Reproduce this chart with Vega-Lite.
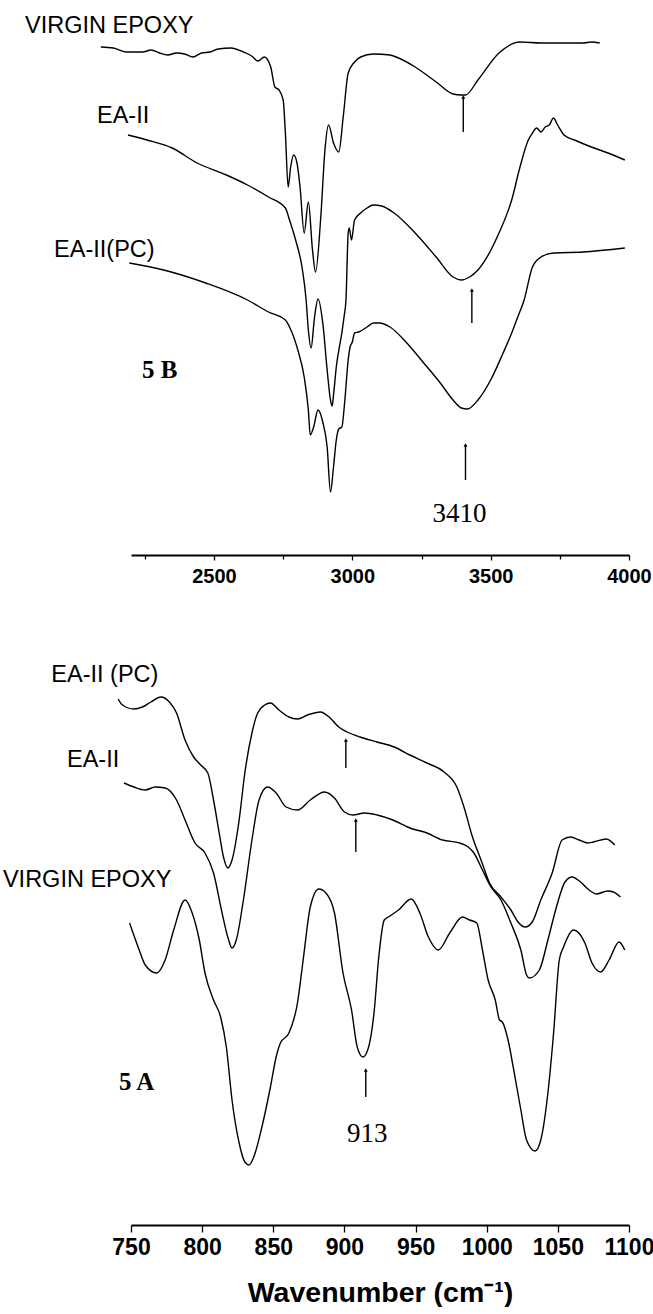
{
  "$schema": "https://vega.github.io/schema/vega-lite/v6.json",
  "padding": {"left": 2, "top": 10, "right": 0, "bottom": 0},
  "background": "white",
  "spacing": 64,
  "config": {"view": {"stroke": null}, "font": "Liberation Sans"},
  "datasets": {
    "spectra": [
      {"panel":"B","series":"V","wn":2091,"tr":508},{"panel":"B","series":"V","wn":2136,"tr":507},{"panel":"B","series":"V","wn":2182,"tr":503},{"panel":"B","series":"V","wn":2212,"tr":503},{"panel":"B","series":"V","wn":2242,"tr":503},{"panel":"B","series":"V","wn":2273,"tr":505},{"panel":"B","series":"V","wn":2303,"tr":502},{"panel":"B","series":"V","wn":2333,"tr":500},{"panel":"B","series":"V","wn":2364,"tr":502},{"panel":"B","series":"V","wn":2394,"tr":501},{"panel":"B","series":"V","wn":2424,"tr":498},{"panel":"B","series":"V","wn":2455,"tr":502},{"panel":"B","series":"V","wn":2485,"tr":503},{"panel":"B","series":"V","wn":2515,"tr":506},{"panel":"B","series":"V","wn":2561,"tr":507},{"panel":"B","series":"V","wn":2606,"tr":503},{"panel":"B","series":"V","wn":2636,"tr":499},{"panel":"B","series":"V","wn":2659,"tr":494},{"panel":"B","series":"V","wn":2682,"tr":498},{"panel":"B","series":"V","wn":2705,"tr":488},{"panel":"B","series":"V","wn":2720,"tr":468},{"panel":"B","series":"V","wn":2735,"tr":465},{"panel":"B","series":"V","wn":2750,"tr":455},{"panel":"B","series":"V","wn":2758,"tr":422},{"panel":"B","series":"V","wn":2768,"tr":368},{"panel":"B","series":"V","wn":2777,"tr":388},{"panel":"B","series":"V","wn":2788,"tr":400},{"panel":"B","series":"V","wn":2800,"tr":392},{"panel":"B","series":"V","wn":2811,"tr":368},{"panel":"B","series":"V","wn":2826,"tr":322},{"panel":"B","series":"V","wn":2841,"tr":353},{"panel":"B","series":"V","wn":2856,"tr":305},{"panel":"B","series":"V","wn":2867,"tr":283},{"panel":"B","series":"V","wn":2886,"tr":338},{"panel":"B","series":"V","wn":2901,"tr":405},{"panel":"B","series":"V","wn":2914,"tr":430},{"panel":"B","series":"V","wn":2932,"tr":412},{"panel":"B","series":"V","wn":2951,"tr":403},{"panel":"B","series":"V","wn":2967,"tr":438},{"panel":"B","series":"V","wn":2985,"tr":482},{"panel":"B","series":"V","wn":3008,"tr":493},{"panel":"B","series":"V","wn":3030,"tr":498},{"panel":"B","series":"V","wn":3076,"tr":501},{"panel":"B","series":"V","wn":3136,"tr":500},{"panel":"B","series":"V","wn":3167,"tr":497},{"panel":"B","series":"V","wn":3227,"tr":488},{"panel":"B","series":"V","wn":3303,"tr":473},{"panel":"B","series":"V","wn":3364,"tr":461},{"panel":"B","series":"V","wn":3394,"tr":460},{"panel":"B","series":"V","wn":3409,"tr":460},{"panel":"B","series":"V","wn":3454,"tr":475},{"panel":"B","series":"V","wn":3530,"tr":502},{"panel":"B","series":"V","wn":3606,"tr":513},{"panel":"B","series":"V","wn":3682,"tr":512},{"panel":"B","series":"V","wn":3757,"tr":512},{"panel":"B","series":"V","wn":3833,"tr":512},{"panel":"B","series":"V","wn":3864,"tr":513},{"panel":"B","series":"V","wn":3894,"tr":512},
      {"panel":"B","series":"E","wn":2189,"tr":420},{"panel":"B","series":"E","wn":2258,"tr":415},{"panel":"B","series":"E","wn":2349,"tr":407},{"panel":"B","series":"E","wn":2439,"tr":392},{"panel":"B","series":"E","wn":2545,"tr":380},{"panel":"B","series":"E","wn":2621,"tr":370},{"panel":"B","series":"E","wn":2697,"tr":358},{"panel":"B","series":"E","wn":2758,"tr":347},{"panel":"B","series":"E","wn":2773,"tr":335},{"panel":"B","series":"E","wn":2795,"tr":315},{"panel":"B","series":"E","wn":2818,"tr":288},{"panel":"B","series":"E","wn":2833,"tr":255},{"panel":"B","series":"E","wn":2841,"tr":225},{"panel":"B","series":"E","wn":2851,"tr":207},{"panel":"B","series":"E","wn":2863,"tr":237},{"panel":"B","series":"E","wn":2876,"tr":256},{"panel":"B","series":"E","wn":2894,"tr":230},{"panel":"B","series":"E","wn":2909,"tr":185},{"panel":"B","series":"E","wn":2921,"tr":155},{"panel":"B","series":"E","wn":2927,"tr":149},{"panel":"B","series":"E","wn":2932,"tr":160},{"panel":"B","series":"E","wn":2942,"tr":188},{"panel":"B","series":"E","wn":2962,"tr":222},{"panel":"B","series":"E","wn":2970,"tr":238},{"panel":"B","series":"E","wn":2977,"tr":255},{"panel":"B","series":"E","wn":2985,"tr":322},{"panel":"B","series":"E","wn":2989,"tr":327},{"panel":"B","series":"E","wn":2997,"tr":315},{"panel":"B","series":"E","wn":3008,"tr":335},{"panel":"B","series":"E","wn":3030,"tr":342},{"panel":"B","series":"E","wn":3053,"tr":347},{"panel":"B","series":"E","wn":3076,"tr":350},{"panel":"B","series":"E","wn":3106,"tr":349},{"panel":"B","series":"E","wn":3151,"tr":342},{"panel":"B","series":"E","wn":3227,"tr":322},{"panel":"B","series":"E","wn":3303,"tr":298},{"panel":"B","series":"E","wn":3364,"tr":278},{"panel":"B","series":"E","wn":3394,"tr":275},{"panel":"B","series":"E","wn":3424,"tr":278},{"panel":"B","series":"E","wn":3454,"tr":285},{"panel":"B","series":"E","wn":3530,"tr":322},{"panel":"B","series":"E","wn":3576,"tr":355},{"panel":"B","series":"E","wn":3606,"tr":388},{"panel":"B","series":"E","wn":3636,"tr":415},{"panel":"B","series":"E","wn":3651,"tr":422},{"panel":"B","series":"E","wn":3666,"tr":427},{"panel":"B","series":"E","wn":3682,"tr":423},{"panel":"B","series":"E","wn":3697,"tr":428},{"panel":"B","series":"E","wn":3712,"tr":430},{"panel":"B","series":"E","wn":3727,"tr":437},{"panel":"B","series":"E","wn":3742,"tr":430},{"panel":"B","series":"E","wn":3765,"tr":420},{"panel":"B","series":"E","wn":3803,"tr":415},{"panel":"B","series":"E","wn":3864,"tr":408},{"panel":"B","series":"E","wn":3924,"tr":402},{"panel":"B","series":"E","wn":3985,"tr":395},
      {"panel":"B","series":"P","wn":2194,"tr":292},{"panel":"B","series":"P","wn":2318,"tr":285},{"panel":"B","series":"P","wn":2470,"tr":272},{"panel":"B","series":"P","wn":2621,"tr":255},{"panel":"B","series":"P","wn":2697,"tr":243},{"panel":"B","series":"P","wn":2758,"tr":235},{"panel":"B","series":"P","wn":2773,"tr":228},{"panel":"B","series":"P","wn":2803,"tr":205},{"panel":"B","series":"P","wn":2826,"tr":178},{"panel":"B","series":"P","wn":2841,"tr":145},{"panel":"B","series":"P","wn":2848,"tr":120},{"panel":"B","series":"P","wn":2860,"tr":128},{"panel":"B","series":"P","wn":2876,"tr":145},{"panel":"B","series":"P","wn":2894,"tr":132},{"panel":"B","series":"P","wn":2909,"tr":108},{"panel":"B","series":"P","wn":2921,"tr":63},{"panel":"B","series":"P","wn":2932,"tr":88},{"panel":"B","series":"P","wn":2942,"tr":115},{"panel":"B","series":"P","wn":2951,"tr":126},{"panel":"B","series":"P","wn":2962,"tr":128},{"panel":"B","series":"P","wn":2973,"tr":155},{"panel":"B","series":"P","wn":2985,"tr":195},{"panel":"B","series":"P","wn":2992,"tr":208},{"panel":"B","series":"P","wn":3000,"tr":213},{"panel":"B","series":"P","wn":3008,"tr":222},{"panel":"B","series":"P","wn":3023,"tr":223},{"panel":"B","series":"P","wn":3053,"tr":228},{"panel":"B","series":"P","wn":3076,"tr":232},{"panel":"B","series":"P","wn":3098,"tr":232},{"panel":"B","series":"P","wn":3136,"tr":228},{"panel":"B","series":"P","wn":3197,"tr":212},{"panel":"B","series":"P","wn":3258,"tr":192},{"panel":"B","series":"P","wn":3318,"tr":172},{"panel":"B","series":"P","wn":3364,"tr":155},{"panel":"B","series":"P","wn":3394,"tr":147},{"panel":"B","series":"P","wn":3416,"tr":146},{"panel":"B","series":"P","wn":3454,"tr":155},{"panel":"B","series":"P","wn":3500,"tr":175},{"panel":"B","series":"P","wn":3545,"tr":202},{"panel":"B","series":"P","wn":3576,"tr":222},{"panel":"B","series":"P","wn":3598,"tr":238},{"panel":"B","series":"P","wn":3621,"tr":255},{"panel":"B","series":"P","wn":3651,"tr":288},{"panel":"B","series":"P","wn":3682,"tr":298},{"panel":"B","series":"P","wn":3727,"tr":302},{"panel":"B","series":"P","wn":3833,"tr":303},{"panel":"B","series":"P","wn":3985,"tr":307},
      {"panel":"A","series":"P","wn":741,"tr":526},{"panel":"A","series":"P","wn":744,"tr":520},{"panel":"A","series":"P","wn":752,"tr":516},{"panel":"A","series":"P","wn":758,"tr":518},{"panel":"A","series":"P","wn":764,"tr":523},{"panel":"A","series":"P","wn":771,"tr":528},{"panel":"A","series":"P","wn":777,"tr":523},{"panel":"A","series":"P","wn":782,"tr":512},{"panel":"A","series":"P","wn":788,"tr":485},{"panel":"A","series":"P","wn":794,"tr":468},{"panel":"A","series":"P","wn":799,"tr":460},{"panel":"A","series":"P","wn":804,"tr":452},{"panel":"A","series":"P","wn":808,"tr":425},{"panel":"A","series":"P","wn":812,"tr":392},{"panel":"A","series":"P","wn":815,"tr":368},{"panel":"A","series":"P","wn":818,"tr":357},{"panel":"A","series":"P","wn":821,"tr":365},{"panel":"A","series":"P","wn":826,"tr":405},{"panel":"A","series":"P","wn":830,"tr":452},{"panel":"A","series":"P","wn":835,"tr":492},{"panel":"A","series":"P","wn":839,"tr":512},{"panel":"A","series":"P","wn":844,"tr":520},{"panel":"A","series":"P","wn":848,"tr":522},{"panel":"A","series":"P","wn":854,"tr":515},{"panel":"A","series":"P","wn":861,"tr":508},{"panel":"A","series":"P","wn":867,"tr":506},{"panel":"A","series":"P","wn":874,"tr":510},{"panel":"A","series":"P","wn":883,"tr":513},{"panel":"A","series":"P","wn":890,"tr":507},{"panel":"A","series":"P","wn":896,"tr":498},{"panel":"A","series":"P","wn":902,"tr":493},{"panel":"A","series":"P","wn":911,"tr":488},{"panel":"A","series":"P","wn":923,"tr":483},{"panel":"A","series":"P","wn":935,"tr":478},{"panel":"A","series":"P","wn":946,"tr":470},{"panel":"A","series":"P","wn":958,"tr":462},{"panel":"A","series":"P","wn":970,"tr":453},{"panel":"A","series":"P","wn":979,"tr":438},{"panel":"A","series":"P","wn":984,"tr":418},{"panel":"A","series":"P","wn":990,"tr":388},{"panel":"A","series":"P","wn":996,"tr":365},{"panel":"A","series":"P","wn":1002,"tr":342},{"panel":"A","series":"P","wn":1010,"tr":328},{"panel":"A","series":"P","wn":1017,"tr":315},{"panel":"A","series":"P","wn":1022,"tr":303},{"panel":"A","series":"P","wn":1027,"tr":298},{"panel":"A","series":"P","wn":1032,"tr":303},{"panel":"A","series":"P","wn":1038,"tr":325},{"panel":"A","series":"P","wn":1046,"tr":352},{"panel":"A","series":"P","wn":1053,"tr":385},{"panel":"A","series":"P","wn":1059,"tr":388},{"panel":"A","series":"P","wn":1065,"tr":385},{"panel":"A","series":"P","wn":1071,"tr":382},{"panel":"A","series":"P","wn":1075,"tr":383},{"panel":"A","series":"P","wn":1084,"tr":386},{"panel":"A","series":"P","wn":1090,"tr":380},
      {"panel":"A","series":"E","wn":745,"tr":442},{"panel":"A","series":"E","wn":752,"tr":438},{"panel":"A","series":"E","wn":760,"tr":435},{"panel":"A","series":"E","wn":767,"tr":438},{"panel":"A","series":"E","wn":774,"tr":437},{"panel":"A","series":"E","wn":782,"tr":425},{"panel":"A","series":"E","wn":788,"tr":405},{"panel":"A","series":"E","wn":795,"tr":382},{"panel":"A","series":"E","wn":802,"tr":372},{"panel":"A","series":"E","wn":808,"tr":352},{"panel":"A","series":"E","wn":814,"tr":312},{"panel":"A","series":"E","wn":818,"tr":288},{"panel":"A","series":"E","wn":821,"tr":277},{"panel":"A","series":"E","wn":824,"tr":285},{"panel":"A","series":"E","wn":829,"tr":325},{"panel":"A","series":"E","wn":835,"tr":385},{"panel":"A","series":"E","wn":840,"tr":425},{"panel":"A","series":"E","wn":846,"tr":438},{"panel":"A","series":"E","wn":852,"tr":432},{"panel":"A","series":"E","wn":859,"tr":418},{"panel":"A","series":"E","wn":867,"tr":415},{"panel":"A","series":"E","wn":876,"tr":425},{"panel":"A","series":"E","wn":886,"tr":433},{"panel":"A","series":"E","wn":893,"tr":427},{"panel":"A","series":"E","wn":900,"tr":413},{"panel":"A","series":"E","wn":906,"tr":410},{"panel":"A","series":"E","wn":914,"tr":412},{"panel":"A","series":"E","wn":923,"tr":410},{"panel":"A","series":"E","wn":934,"tr":405},{"panel":"A","series":"E","wn":946,"tr":397},{"panel":"A","series":"E","wn":958,"tr":392},{"panel":"A","series":"E","wn":969,"tr":385},{"panel":"A","series":"E","wn":981,"tr":382},{"panel":"A","series":"E","wn":987,"tr":378},{"panel":"A","series":"E","wn":991,"tr":372},{"panel":"A","series":"E","wn":997,"tr":355},{"panel":"A","series":"E","wn":1003,"tr":338},{"panel":"A","series":"E","wn":1010,"tr":325},{"panel":"A","series":"E","wn":1017,"tr":302},{"panel":"A","series":"E","wn":1024,"tr":275},{"panel":"A","series":"E","wn":1028,"tr":250},{"panel":"A","series":"E","wn":1030,"tr":247},{"panel":"A","series":"E","wn":1037,"tr":255},{"panel":"A","series":"E","wn":1043,"tr":285},{"panel":"A","series":"E","wn":1049,"tr":318},{"panel":"A","series":"E","wn":1055,"tr":343},{"panel":"A","series":"E","wn":1060,"tr":348},{"panel":"A","series":"E","wn":1066,"tr":343},{"panel":"A","series":"E","wn":1072,"tr":335},{"panel":"A","series":"E","wn":1077,"tr":331},{"panel":"A","series":"E","wn":1085,"tr":334},{"panel":"A","series":"E","wn":1089,"tr":333},{"panel":"A","series":"E","wn":1094,"tr":328},
      {"panel":"A","series":"V","wn":749,"tr":302},{"panel":"A","series":"V","wn":755,"tr":278},{"panel":"A","series":"V","wn":760,"tr":260},{"panel":"A","series":"V","wn":768,"tr":252},{"panel":"A","series":"V","wn":774,"tr":265},{"panel":"A","series":"V","wn":780,"tr":295},{"panel":"A","series":"V","wn":788,"tr":325},{"panel":"A","series":"V","wn":793,"tr":312},{"panel":"A","series":"V","wn":798,"tr":285},{"panel":"A","series":"V","wn":802,"tr":252},{"panel":"A","series":"V","wn":808,"tr":225},{"panel":"A","series":"V","wn":813,"tr":208},{"panel":"A","series":"V","wn":817,"tr":178},{"panel":"A","series":"V","wn":821,"tr":125},{"panel":"A","series":"V","wn":826,"tr":82},{"panel":"A","series":"V","wn":830,"tr":63},{"panel":"A","series":"V","wn":833,"tr":60},{"panel":"A","series":"V","wn":836,"tr":67},{"panel":"A","series":"V","wn":842,"tr":98},{"panel":"A","series":"V","wn":848,"tr":138},{"panel":"A","series":"V","wn":852,"tr":168},{"panel":"A","series":"V","wn":855,"tr":182},{"panel":"A","series":"V","wn":861,"tr":192},{"panel":"A","series":"V","wn":867,"tr":222},{"panel":"A","series":"V","wn":871,"tr":265},{"panel":"A","series":"V","wn":876,"tr":318},{"panel":"A","series":"V","wn":882,"tr":336},{"panel":"A","series":"V","wn":887,"tr":332},{"panel":"A","series":"V","wn":893,"tr":312},{"panel":"A","series":"V","wn":899,"tr":252},{"panel":"A","series":"V","wn":905,"tr":215},{"panel":"A","series":"V","wn":909,"tr":178},{"panel":"A","series":"V","wn":913,"tr":168},{"panel":"A","series":"V","wn":917,"tr":178},{"panel":"A","series":"V","wn":921,"tr":215},{"panel":"A","series":"V","wn":924,"tr":266},{"panel":"A","series":"V","wn":928,"tr":305},{"panel":"A","series":"V","wn":932,"tr":309},{"panel":"A","series":"V","wn":938,"tr":315},{"panel":"A","series":"V","wn":947,"tr":326},{"panel":"A","series":"V","wn":953,"tr":312},{"panel":"A","series":"V","wn":959,"tr":288},{"panel":"A","series":"V","wn":966,"tr":275},{"panel":"A","series":"V","wn":974,"tr":292},{"panel":"A","series":"V","wn":983,"tr":308},{"panel":"A","series":"V","wn":988,"tr":305},{"panel":"A","series":"V","wn":993,"tr":302},{"panel":"A","series":"V","wn":997,"tr":275},{"panel":"A","series":"V","wn":1001,"tr":245},{"panel":"A","series":"V","wn":1006,"tr":225},{"panel":"A","series":"V","wn":1009,"tr":205},{"panel":"A","series":"V","wn":1011,"tr":203},{"panel":"A","series":"V","wn":1015,"tr":185},{"panel":"A","series":"V","wn":1019,"tr":155},{"panel":"A","series":"V","wn":1024,"tr":115},{"panel":"A","series":"V","wn":1028,"tr":85},{"panel":"A","series":"V","wn":1034,"tr":74},{"panel":"A","series":"V","wn":1038,"tr":85},{"panel":"A","series":"V","wn":1043,"tr":132},{"panel":"A","series":"V","wn":1047,"tr":192},{"panel":"A","series":"V","wn":1051,"tr":265},{"panel":"A","series":"V","wn":1054,"tr":278},{"panel":"A","series":"V","wn":1061,"tr":295},{"panel":"A","series":"V","wn":1069,"tr":282},{"panel":"A","series":"V","wn":1074,"tr":262},{"panel":"A","series":"V","wn":1080,"tr":253},{"panel":"A","series":"V","wn":1086,"tr":265},{"panel":"A","series":"V","wn":1093,"tr":283},{"panel":"A","series":"V","wn":1097,"tr":275}
    ],
    "arrows": [
      {"panel":"B","wn":3401,"tip":458,"tail":423},
      {"panel":"B","wn":3432,"tip":265,"tail":232},
      {"panel":"B","wn":3409,"tip":110,"tail":75},
      {"panel":"A","wn":901,"tip":485,"tail":457},
      {"panel":"A","wn":908,"tip":405,"tail":373},
      {"panel":"A","wn":915,"tip":155,"tail":128}
    ],
    "labels": [
      {"panel":"B","kind":"curve","text":"VIRGIN EPOXY","wn":1817,"tr":522},
      {"panel":"B","kind":"curve","text":"EA-II","wn":2077,"tr":432},
      {"panel":"B","kind":"curve","text":"EA-II(PC)","wn":1922,"tr":298},
      {"panel":"B","kind":"panel","text":"5 B","wn":2240,"tr":177},
      {"panel":"B","kind":"peak","text":"3410","wn":3387,"tr":33},
      {"panel":"A","kind":"curve","text":"EA-II (PC)","wn":694,"tr":543},
      {"panel":"A","kind":"curve","text":"EA-II","wn":705,"tr":458},
      {"panel":"A","kind":"curve","text":"VIRGIN EPOXY","wn":660,"tr":338},
      {"panel":"A","kind":"panel","text":"5 A","wn":741.5,"tr":135},
      {"panel":"A","kind":"peak","text":"913","wn":916,"tr":83}
    ]
  },
  "vconcat": [
    {
      "width": 498,
      "height": 545,
      "layer": [
        {
          "data": {"name": "spectra"},
          "transform": [{"filter": "datum.panel == 'B'"}],
          "mark": {"type": "line", "color": "black", "strokeWidth": 1.4, "interpolate": "monotone"},
          "encoding": {
            "x": {"field": "wn", "type": "quantitative", "scale": {"domain": [2200, 4000], "nice": false, "zero": false},
              "axis": {"values": [2250, 2500, 2750, 3000, 3250, 3500, 3750, 4000], "format": "d", "labelExpr": "datum.value % 500 == 0 ? datum.label : ''", "grid": false, "title": null, "domainColor": "black", "domainWidth": 1.8, "tickColor": "black", "tickWidth": 1.3, "tickSize": {"condition": {"test": "datum.value % 500 == 0", "value": 5}, "value": 4}, "labelFont": "Liberation Sans", "labelFontWeight": "bold", "labelFontSize": 20, "labelColor": "black", "labelPadding": 6, "labelFlush": false, "labelOverlap": false}},
            "y": {"field": "tr", "type": "quantitative", "scale": {"domain": [0, 545], "nice": false, "zero": false}, "axis": null},
            "detail": {"field": "series"}
          }
        },
        {
          "data": {"name": "arrows"},
          "transform": [{"filter": "datum.panel == 'B'"}],
          "mark": {"type": "rule", "color": "black", "strokeWidth": 1.4},
          "encoding": {
            "x": {"field": "wn", "type": "quantitative"},
            "y": {"field": "tip", "type": "quantitative"},
            "y2": {"field": "tail"}
          }
        },
        {
          "data": {"name": "arrows"},
          "transform": [{"filter": "datum.panel == 'B'"}],
          "mark": {"type": "point", "shape": "triangle-up", "filled": true, "color": "black", "size": 16, "opacity": 1},
          "encoding": {
            "x": {"field": "wn", "type": "quantitative"},
            "y": {"field": "tip", "type": "quantitative"}
          }
        },
        {
          "data": {"name": "labels"},
          "transform": [{"filter": "datum.panel == 'B' && datum.kind == 'curve'"}],
          "mark": {"type": "text", "align": "left", "baseline": "alphabetic", "font": "Liberation Sans", "fontSize": 23.5, "color": "black"},
          "encoding": {
            "x": {"field": "wn", "type": "quantitative"},
            "y": {"field": "tr", "type": "quantitative"},
            "text": {"field": "text"}
          }
        },
        {
          "data": {"name": "labels"},
          "transform": [{"filter": "datum.panel == 'B' && datum.kind == 'panel'"}],
          "mark": {"type": "text", "align": "left", "baseline": "alphabetic", "font": "Liberation Serif", "fontWeight": "bold", "fontSize": 25, "color": "black"},
          "encoding": {
            "x": {"field": "wn", "type": "quantitative"},
            "y": {"field": "tr", "type": "quantitative"},
            "text": {"field": "text"}
          }
        },
        {
          "data": {"name": "labels"},
          "transform": [{"filter": "datum.panel == 'B' && datum.kind == 'peak'"}],
          "mark": {"type": "text", "align": "center", "baseline": "alphabetic", "font": "Liberation Serif", "fontSize": 27, "color": "black"},
          "encoding": {
            "x": {"field": "wn", "type": "quantitative"},
            "y": {"field": "tr", "type": "quantitative"},
            "text": {"field": "text"}
          }
        }
      ]
    },
    {
      "width": 498,
      "height": 575,
      "layer": [
        {
          "data": {"name": "spectra"},
          "transform": [{"filter": "datum.panel == 'A'"}],
          "mark": {"type": "line", "color": "black", "strokeWidth": 1.4, "interpolate": "monotone"},
          "encoding": {
            "x": {"field": "wn", "type": "quantitative", "scale": {"domain": [750, 1100], "nice": false, "zero": false},
              "axis": {"values": [750, 775, 800, 825, 850, 875, 900, 925, 950, 975, 1000, 1025, 1050, 1075, 1100], "format": "d", "labelExpr": "datum.value % 50 == 0 ? datum.label : ''", "grid": false, "title": "Wavenumber (cm⁻¹)", "titleFont": "Liberation Sans", "titleFontWeight": "bold", "titleFontSize": 28.5, "titleColor": "black", "titlePadding": 19, "domainColor": "black", "domainWidth": 1.8, "tickColor": "black", "tickWidth": 1.3, "tickSize": {"condition": {"test": "datum.value % 50 == 0", "value": 7}, "value": 5}, "labelFont": "Liberation Sans", "labelFontWeight": "bold", "labelFontSize": 23, "labelColor": "black", "labelPadding": 4, "labelFlush": false, "labelOverlap": false}},
            "y": {"field": "tr", "type": "quantitative", "scale": {"domain": [0, 575], "nice": false, "zero": false}, "axis": null},
            "detail": {"field": "series"}
          }
        },
        {
          "data": {"name": "arrows"},
          "transform": [{"filter": "datum.panel == 'A'"}],
          "mark": {"type": "rule", "color": "black", "strokeWidth": 1.4},
          "encoding": {
            "x": {"field": "wn", "type": "quantitative"},
            "y": {"field": "tip", "type": "quantitative"},
            "y2": {"field": "tail"}
          }
        },
        {
          "data": {"name": "arrows"},
          "transform": [{"filter": "datum.panel == 'A'"}],
          "mark": {"type": "point", "shape": "triangle-up", "filled": true, "color": "black", "size": 16, "opacity": 1},
          "encoding": {
            "x": {"field": "wn", "type": "quantitative"},
            "y": {"field": "tip", "type": "quantitative"}
          }
        },
        {
          "data": {"name": "labels"},
          "transform": [{"filter": "datum.panel == 'A' && datum.kind == 'curve'"}],
          "mark": {"type": "text", "align": "left", "baseline": "alphabetic", "font": "Liberation Sans", "fontSize": 23.5, "color": "black"},
          "encoding": {
            "x": {"field": "wn", "type": "quantitative"},
            "y": {"field": "tr", "type": "quantitative"},
            "text": {"field": "text"}
          }
        },
        {
          "data": {"name": "labels"},
          "transform": [{"filter": "datum.panel == 'A' && datum.kind == 'panel'"}],
          "mark": {"type": "text", "align": "left", "baseline": "alphabetic", "font": "Liberation Serif", "fontWeight": "bold", "fontSize": 25, "color": "black"},
          "encoding": {
            "x": {"field": "wn", "type": "quantitative"},
            "y": {"field": "tr", "type": "quantitative"},
            "text": {"field": "text"}
          }
        },
        {
          "data": {"name": "labels"},
          "transform": [{"filter": "datum.panel == 'A' && datum.kind == 'peak'"}],
          "mark": {"type": "text", "align": "center", "baseline": "alphabetic", "font": "Liberation Serif", "fontSize": 27, "color": "black"},
          "encoding": {
            "x": {"field": "wn", "type": "quantitative"},
            "y": {"field": "tr", "type": "quantitative"},
            "text": {"field": "text"}
          }
        }
      ]
    }
  ]
}
